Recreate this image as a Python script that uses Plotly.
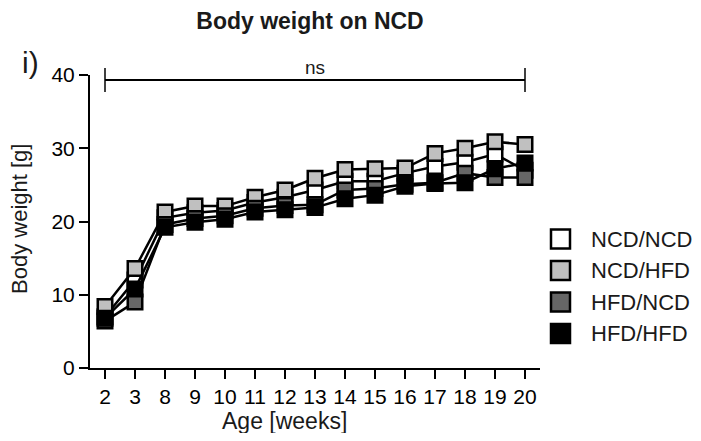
import plotly.graph_objects as go

weeks = ['2', '3', '8', '9', '10', '11', '12', '13', '14', '15', '16', '17', '18', '19', '20']
ncd_ncd = [7.0, 12.0, 20.5, 21.2, 21.5, 22.6, 23.3, 24.3, 25.5, 25.5, 26.6, 27.5, 28.1, 29.2, 27.0]
ncd_hfd = [8.4, 13.6, 21.3, 22.1, 22.1, 23.3, 24.3, 25.9, 27.1, 27.2, 27.3, 29.3, 30.0, 30.9, 30.5]
hfd_ncd = [6.4, 9.0, 19.6, 20.4, 20.8, 21.8, 22.2, 22.3, 24.3, 24.5, 25.1, 25.3, 26.6, 26.0, 26.0]
hfd_hfd = [6.8, 10.8, 19.2, 19.9, 20.3, 21.3, 21.6, 21.9, 23.1, 23.6, 24.8, 25.2, 25.3, 27.2, 28.0]
y_ticks = [0, 10, 20, 30, 40]

series = [
    ('NCD/NCD', ncd_ncd, '#ffffff'),
    ('NCD/HFD', ncd_hfd, '#c0c0c0'),
    ('HFD/NCD', hfd_ncd, '#666666'),
    ('HFD/HFD', hfd_hfd, '#000000'),
]

FONT = 'Liberation Sans, Arial, Helvetica, sans-serif'
TXT = '#1a1a1a'

# plot area in page pixels (page has 8px body margin)
PL, PR, PT, PB = 90, 540, 75, 368


def px(sx):
    return (sx - PL) / (PR - PL)


def py(sy):
    return (PB - sy) / (PB - PT)


fig = go.Figure()
for name, vals, col in series:
    fig.add_trace(go.Scatter(
        x=weeks, y=vals, mode='lines+markers', name=name, showlegend=False,
        line=dict(color='black', width=2.5),
        marker=dict(symbol='square', size=14.5, color=col, line=dict(color='black', width=2.5)),
    ))

# significance bar
fig.add_shape(type='line', xref='x', yref='paper', x0=0, x1=14, y0=py(80), y1=py(80),
              line=dict(color='black', width=2))
for xc in (0, 14):
    fig.add_shape(type='line', xref='x', yref='paper', x0=xc, x1=xc, y0=py(92), y1=py(68),
                  line=dict(color='black', width=1.5))
fig.add_annotation(x=7, xref='x', y=py(80), yref='paper', yanchor='bottom', text='ns',
                   showarrow=False, font=dict(size=19, color=TXT, family=FONT))
fig.add_annotation(x=px(31), xref='paper', y=py(62), yref='paper', xanchor='center', yanchor='middle',
                   text='i)', showarrow=False, font=dict(size=30, color=TXT, family=FONT))
fig.add_annotation(x=px(19), xref='paper', y=py(219), yref='paper', xanchor='center', yanchor='middle',
                   text='Body weight [g]', textangle=-90, showarrow=False,
                   font=dict(size=22, color=TXT, family=FONT))
fig.add_annotation(x=px(284), xref='paper', y=py(421), yref='paper', xanchor='center', yanchor='middle',
                   text='Age [weeks]', showarrow=False, font=dict(size=23, color=TXT, family=FONT))

# legend (drawn manually to get the large square swatches)
row_y = [239, 270.5, 302, 333.5]
for (name, vals, col), ry in zip(series, row_y):
    fig.add_shape(type='rect', xref='paper', yref='paper',
                  x0=px(551), x1=px(570), y0=py(ry + 9.5), y1=py(ry - 9.5),
                  fillcolor=col, line=dict(color='black', width=2.5))
    fig.add_annotation(x=px(589), xref='paper', y=py(ry), yref='paper', xanchor='left',
                       yanchor='middle', text=name, showarrow=False,
                       font=dict(size=22, color=TXT, family=FONT))

W, H = 693, 425
fig.update_layout(
    width=W, height=H,
    margin=dict(l=PL - 8, r=W - (PR - 8), t=PT - 8, b=H - (PB - 8)),
    paper_bgcolor='white', plot_bgcolor='white',
    font=dict(family=FONT, color='black'),
    title=dict(text='<b>Body weight on NCD</b>', x=(310 - 8) / W, xref='container', xanchor='center',
               y=1 - (21 - 8) / H, yanchor='middle', font=dict(size=23, color=TXT, family=FONT)),
    showlegend=False,
)
fig.update_xaxes(type='category', range=[-0.5, 14.5], showgrid=False, zeroline=False,
                 showline=True, linecolor='black', linewidth=2,
                 ticks='outside', ticklen=9, tickwidth=2, tickcolor='black',
                 tickfont=dict(size=21, color='black'))
fig.update_yaxes(range=[0, 40], tickvals=y_ticks, showgrid=False, zeroline=False,
                 showline=True, linecolor='black', linewidth=2,
                 ticks='outside', ticklen=9, tickwidth=2, tickcolor='black',
                 tickfont=dict(size=21, color='black'))

fig.write_html('out.html')
